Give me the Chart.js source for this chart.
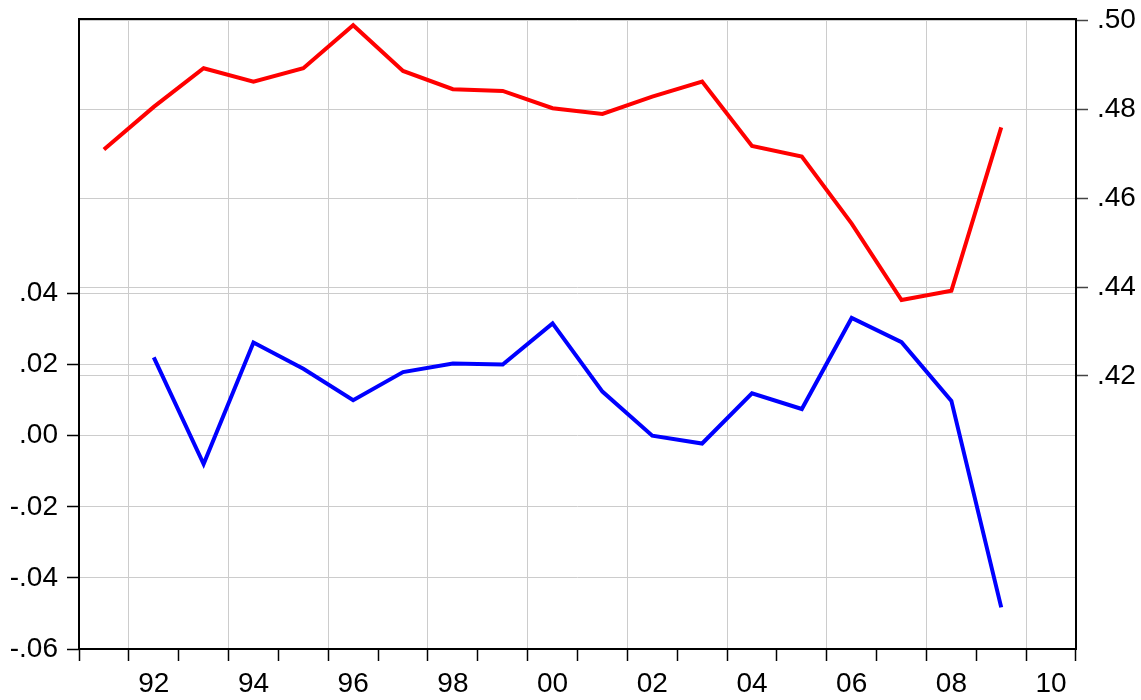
<!DOCTYPE html>
<html>
<head>
<meta charset="utf-8">
<script src="https://cdn.jsdelivr.net/npm/chart.js@4.4.1/dist/chart.umd.min.js"></script>
<style>
  html, body { margin: 0; padding: 0; background: #ffffff; }
  canvas { display: block; }
</style>
</head>
<body>
<canvas id="c" width="1141" height="700"></canvas>
<script>
// Categories (annual, 1991-2010)
const years = ['1991','1992','1993','1994','1995','1996','1997','1998','1999','2000',
               '2001','2002','2003','2004','2005','2006','2007','2008','2009','2010'];

// Red series (right axis)
const redSeries = [0.4710, 0.4806, 0.4893, 0.4863, 0.4893, 0.4990, 0.4887, 0.4846, 0.4842, 0.4803,
                   0.4790, 0.4829, 0.4863, 0.4718, 0.4694, 0.4543, 0.4371, 0.4392, 0.4760, null];

// Blue series (left axis)
const blueSeries = [null, 0.0220, -0.0080, 0.0262, 0.0188, 0.0100, 0.0179, 0.0203, 0.0200, 0.0316,
                    0.0124, 0.0000, -0.0022, 0.0119, 0.0075, 0.0331, 0.0263, 0.0098, -0.0483, null];

// Tick values
const leftTicks = [-0.06, -0.04, -0.02, 0.00, 0.02, 0.04];
const rightTicks = [0.42, 0.44, 0.46, 0.48, 0.50];

const FONT = { family: "'Liberation Sans', Arial, Helvetica, sans-serif", size: 28 };
const GRID = '#cccccc';

function fmt(v) {
  let s = Number(v).toFixed(2);
  if (s === '-0.00') s = '0.00';
  return s.replace('0.', '.');
}

const framePlugin = {
  id: 'frame',
  beforeDatasetsDraw(chart) {
    const a = chart.chartArea, ctx = chart.ctx;
    ctx.save();
    ctx.strokeStyle = '#000';
    ctx.lineWidth = 2;
    ctx.strokeRect(a.left, a.top, a.right - a.left, a.bottom - a.top);
    ctx.restore();
  }
};

function noPad(s) { s.paddingTop = 0; s.paddingBottom = 0; s.paddingLeft = 0; s.paddingRight = 0; }

new Chart(document.getElementById('c'), {
  type: 'line',
  data: {
    labels: years,
    datasets: [
      { label: 'red', data: redSeries, yAxisID: 'y1', borderColor: '#ff0000',
        borderWidth: 4, pointRadius: 0, tension: 0, fill: false, spanGaps: false },
      { label: 'blue', data: blueSeries, yAxisID: 'y', borderColor: '#0000ff',
        borderWidth: 4, pointRadius: 0, tension: 0, fill: false, spanGaps: false }
    ]
  },
  options: {
    responsive: false,
    animation: false,
    devicePixelRatio: 1,
    layout: { padding: { top: 19, left: 0, right: 0, bottom: 0 } },
    plugins: { legend: { display: false }, tooltip: { enabled: false } },
    scales: {
      x: {
        type: 'category',
        offset: true,
        grid: {
          offset: true,
          drawTicks: true,
          tickLength: 12,
          tickWidth: 1.5,
          tickColor: '#000',
          lineWidth: 1,
          color: (c) => {
            if (c.index === undefined) return 'rgba(0,0,0,0)';
            const yr = 1991 + c.index;
            return (yr % 2 === 0) ? GRID : 'rgba(0,0,0,0)';
          }
        },
        border: { display: false },
        ticks: {
          autoSkip: false,
          maxRotation: 0,
          minRotation: 0,
          padding: 6,
          color: '#000',
          font: FONT,
          callback: function(val, i) {
            const y = parseInt(years[i], 10);
            return (y % 2 === 0) ? years[i].slice(2) : '';
          }
        },
        afterFit: (s) => { s.height = 51; noPad(s); }
      },
      y: {
        type: 'linear',
        position: 'left',
        min: -0.06,
        max: 0.1172,
        afterBuildTicks: (s) => { s.ticks = leftTicks.map(v => ({ value: v })); },
        grid: {
          color: GRID, lineWidth: 1,
          drawTicks: true, tickLength: 12, tickWidth: 1.5, tickColor: '#000'
        },
        border: { display: false },
        ticks: { color: '#000', font: FONT, padding: 9, callback: (v) => fmt(v) },
        afterFit: (s) => { s.width = 79; noPad(s); }
      },
      y1: {
        type: 'linear',
        position: 'right',
        min: 0.3585,
        max: 0.5004,
        afterBuildTicks: (s) => { s.ticks = rightTicks.map(v => ({ value: v })); },
        grid: {
          color: GRID, lineWidth: 1,
          drawTicks: true, tickLength: 12, tickWidth: 1.5, tickColor: '#444'
        },
        border: { display: false },
        ticks: { color: '#000', font: FONT, padding: 9, callback: (v) => fmt(v) },
        afterFit: (s) => { s.width = 65; noPad(s); }
      }
    }
  },
  plugins: [framePlugin]
});
</script>
</body>
</html>
